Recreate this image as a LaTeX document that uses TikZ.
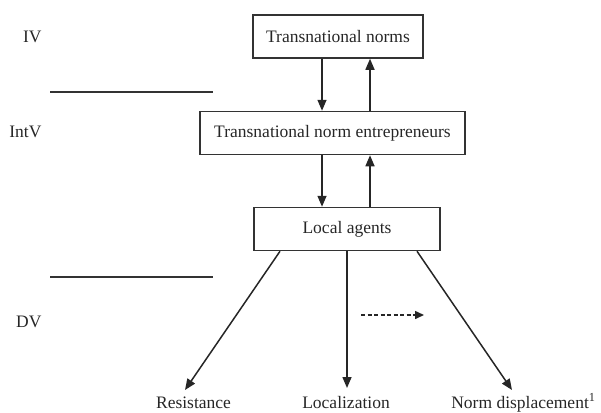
\documentclass[tikz,border=0pt]{standalone}
\usepackage{fontspec}
\setmainfont{Liberation Serif}
\usetikzlibrary{arrows.meta,calc}
\begin{document}
\begin{tikzpicture}[x=1pt,y=-1pt,
  every node/.style={font=\fontsize{17.5}{20}\selectfont, text=black!85},
  boxnode/.style={draw=black!80, line width=1.5pt, inner sep=0pt, minimum height=43pt},
  conn/.style={draw=black!85, line width=1.5pt, -{Triangle[length=11pt,width=9pt]}},
  dconn/.style={draw=black!85, line width=1.5pt, dash pattern=on 4pt off 2.5pt, -{Triangle[length=9pt,width=8pt]}},
  rule/.style={draw=black!80, line width=1.5pt},
  lvl/.style={anchor=base east}
]
\useasboundingbox (0,0) rectangle (601,412);
% boxes
\node[boxnode, minimum width=170pt] (norms) at (338,36.5) {Transnational norms};
\node[boxnode, minimum width=265pt] (entre) at (332.5,133) {Transnational norm entrepreneurs};
\node[boxnode, minimum width=186pt] (local) at (347,229) {Local agents};
% level labels
\node[lvl] (iv) at (45,42) {IV};
\node[lvl] (intv) at (45,137) {IntV};
\node[lvl] (dv) at (45,327) {DV};
% separators
\coordinate (r1a) at (50,92); \coordinate (r1b) at (213,92);
\coordinate (r2a) at (50,277); \coordinate (r2b) at (213,277);
\draw[rule] (r1a) -- (r1b);
\draw[rule] (r2a) -- (r2b);
% vertical arrows
\draw[conn] (norms.south -| 322,0) -- (entre.north -| 322,0);
\draw[conn] (entre.north -| 370,0) -- (norms.south -| 370,0);
\draw[conn] (entre.south -| 322,0) -- (local.north -| 322,0);
\draw[conn] (local.north -| 370,0) -- (entre.south -| 370,0);
% outcomes
\node[anchor=base] (res) at (193.5,408) {Resistance};
\node[anchor=base] (loc) at (346,408) {Localization};
\node[anchor=base east] (nd) at (599,408) {Norm displacement\textsuperscript{1}};
\coordinate (tres) at (185,390);
\coordinate (tloc) at (347,388);
\coordinate (tnd) at (512,390);
\draw[conn] (local.south -| 280,0) -- (tres);
\draw[conn] (local.south -| 347,0) -- (tloc);
\draw[conn] (local.south -| 417,0) -- (tnd);
% dashed arrow
\coordinate (da) at (361,315);
\coordinate (db) at (424,315);
\draw[dconn] (da) -- (db);
\end{tikzpicture}
\end{document}
